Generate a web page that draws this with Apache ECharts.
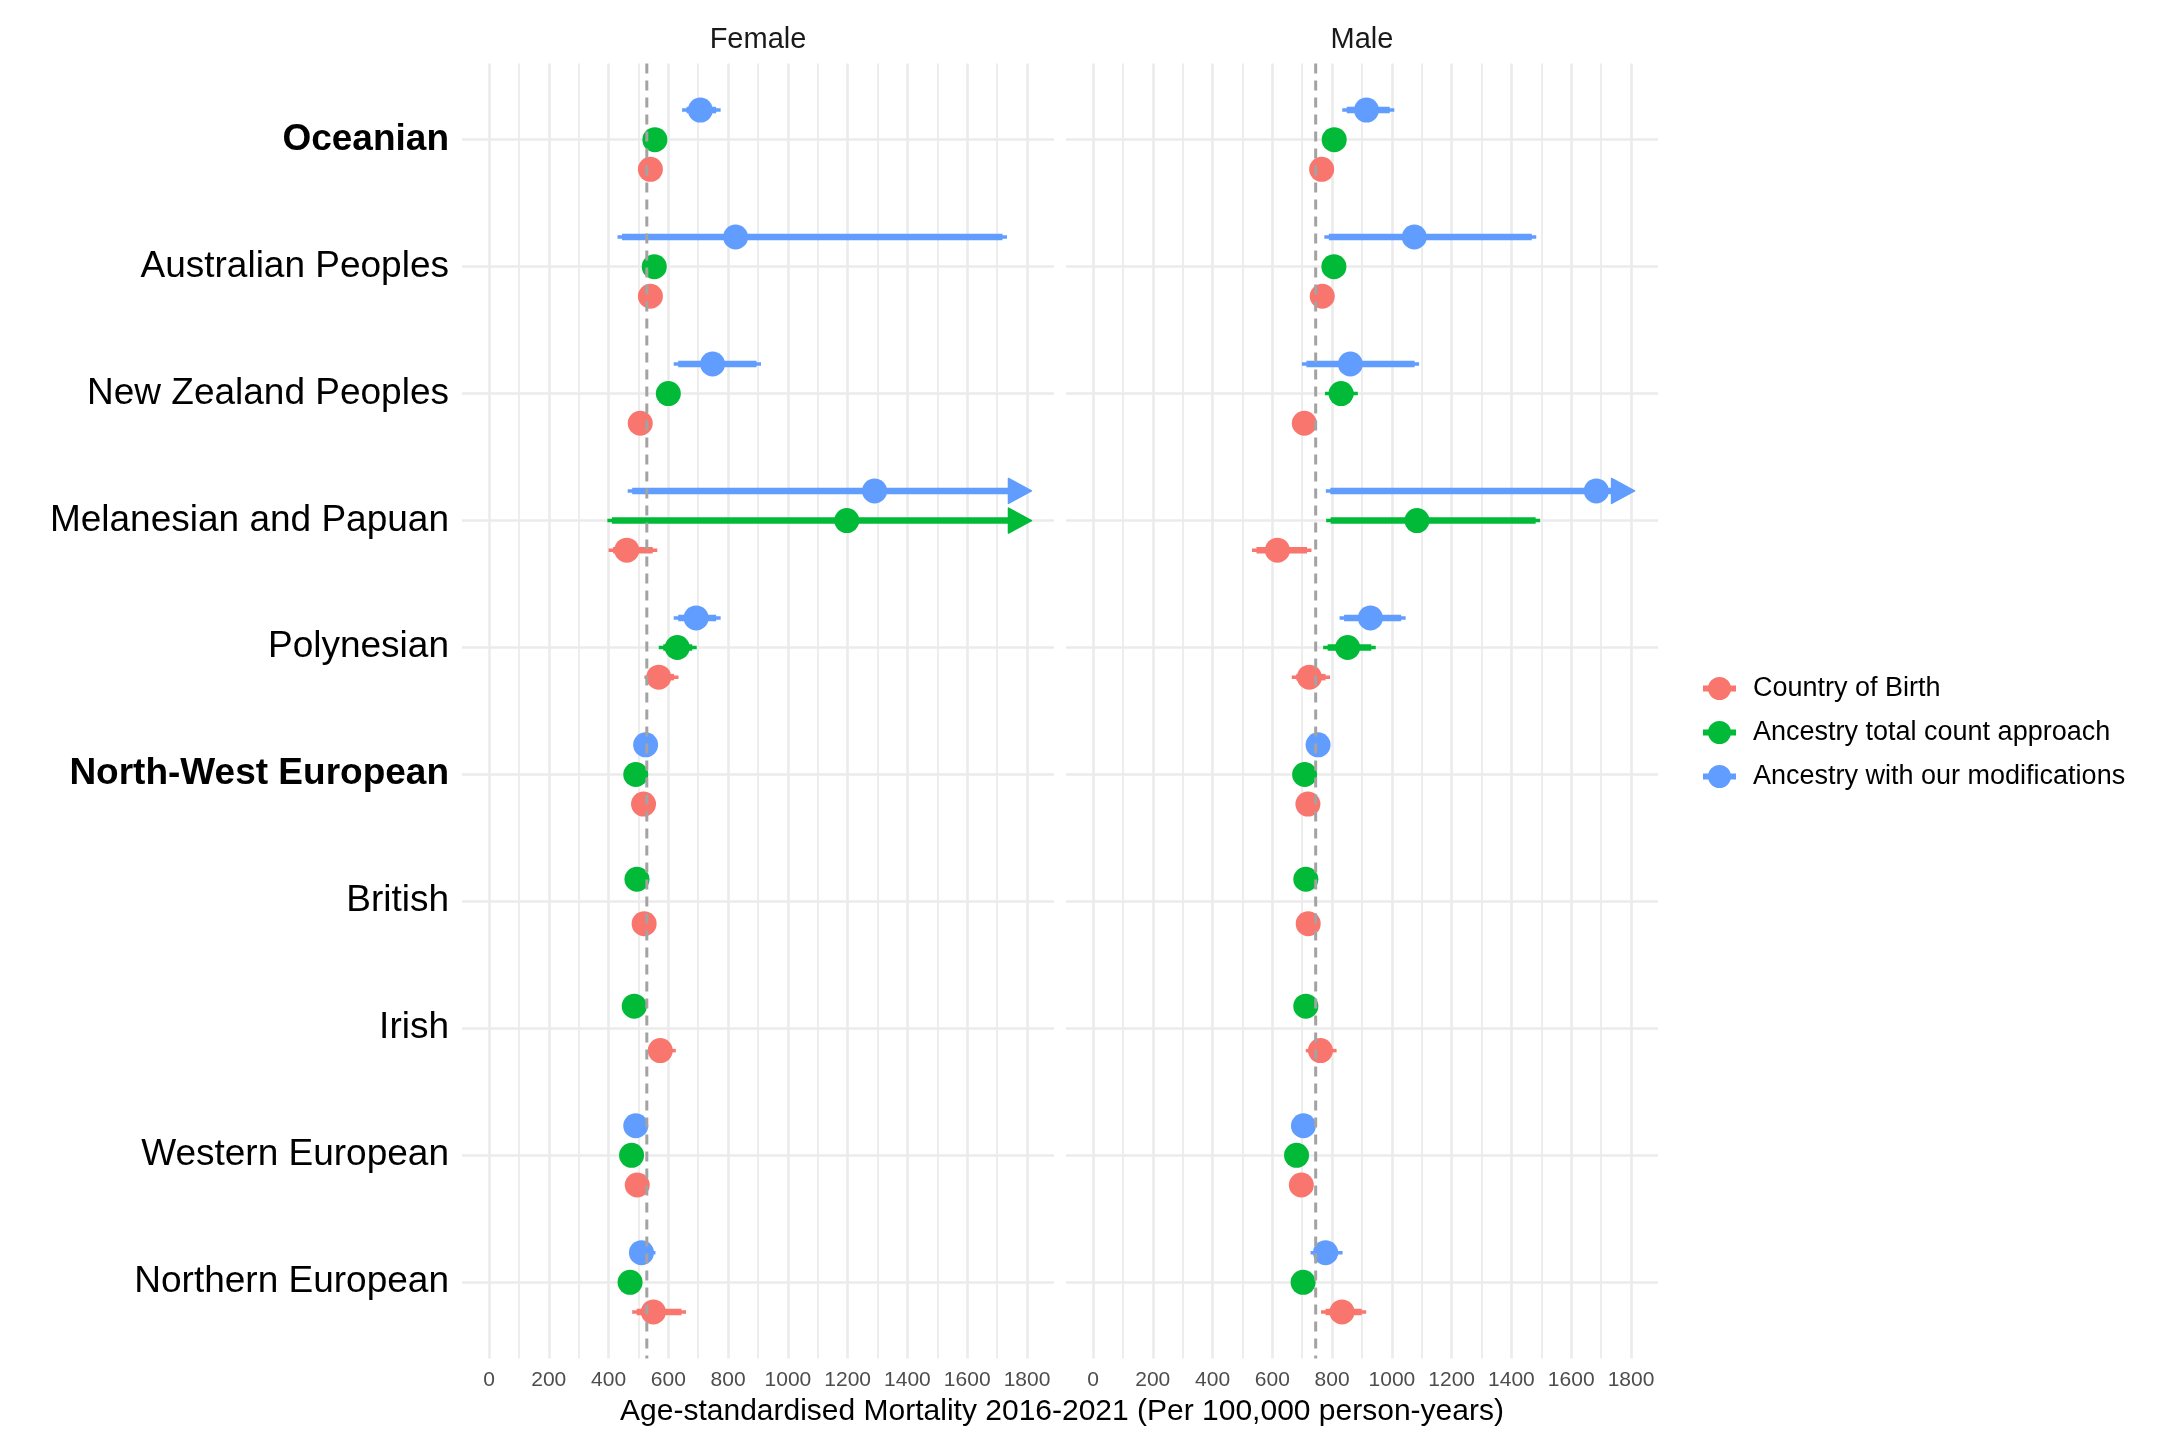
<!DOCTYPE html>
<html>
<head>
<meta charset="utf-8">
<script src="https://cdn.jsdelivr.net/npm/echarts@6.0.0/dist/echarts.min.js"></script>
<style>
  html, body { margin: 0; padding: 0; background: #ffffff; }
  #chart { width: 2160px; height: 1440px; }
</style>
</head>
<body>
<div id="chart"></div>
<script>
// ---------------- data ----------------
const categories = ['Oceanian', 'Australian Peoples', 'New Zealand Peoples', 'Melanesian and Papuan', 'Polynesian',
  'North-West European', 'British', 'Irish', 'Western European', 'Northern European'];
const boldCategories = ['Oceanian', 'North-West European'];
const panels = ['Female', 'Male'];
const methods = ['Country of Birth', 'Ancestry total count approach', 'Ancestry with our modifications'];
const methodColors = ['#F8766D', '#00BA38', '#619CFF'];
const referenceLines = [528, 745];           // dashed vertical line per panel (Female, Male)
const axisTitle = 'Age-standardised Mortality 2016-2021 (Per 100,000 person-years)';

// Female – Country of Birth
const femaleBirthEst  = [540, 540, 506, 461, 568, 517, 519, 573, 496, 550];
const femaleBirthLow  = [528, 528, 494, 400, 520, 511, 513, 537, 488, 479];
const femaleBirthHigh = [552, 552, 518, 563, 634, 523, 525, 625, 505, 659];
// Female – Ancestry total count approach
const femaleTotalEst  = [555, 553, 600, 1197, 630, 491, 495, 486, 477, 472];
const femaleTotalLow  = [545, 543, 589, 396, 568, 486, 490, 480, 471, 465];
const femaleTotalHigh = [566, 564, 612, 1815, 695, 497, 500, 492, 483, 479];
// Female – Ancestry with our modifications
const femaleModEst  = [707, 825, 748, 1290, 693, 524, null, null, 491, 510];
const femaleModLow  = [646, 430, 618, 464, 618, 514, null, null, 482, 495];
const femaleModHigh = [775, 1733, 910, 1815, 775, 534, null, null, 500, 557];
// Male – Country of Birth
const maleBirthEst  = [765, 767, 707, 617, 724, 719, 720, 761, 697, 833];
const maleBirthLow  = [755, 757, 697, 532, 665, 710, 711, 712, 688, 763];
const maleBirthHigh = [776, 778, 717, 731, 793, 729, 730, 815, 707, 914];
// Male – Ancestry total count approach
const maleTotalEst  = [807, 806, 830, 1084, 852, 708, 712, 712, 681, 703];
const maleTotalLow  = [797, 796, 776, 780, 770, 699, 703, 703, 672, 694];
const maleTotalHigh = [817, 816, 886, 1496, 946, 717, 721, 721, 690, 712];
// Male – Ancestry with our modifications
const maleModEst  = [915, 1075, 861, 1684, 928, 753, null, null, 704, 778];
const maleModLow  = [834, 774, 699, 779, 825, 743, null, null, 695, 728];
const maleModHigh = [1008, 1483, 1091, 1812, 1046, 763, null, null, 713, 835];
// intervals whose upper end runs off the axis (drawn with an arrow)
const arrowed = [
  'Female|Ancestry total count approach|Melanesian and Papuan',
  'Female|Ancestry with our modifications|Melanesian and Papuan',
  'Male|Ancestry with our modifications|Melanesian and Papuan'
];

const table = {
  'Female': [[femaleBirthEst, femaleBirthLow, femaleBirthHigh],
             [femaleTotalEst, femaleTotalLow, femaleTotalHigh],
             [femaleModEst, femaleModLow, femaleModHigh]],
  'Male':   [[maleBirthEst, maleBirthLow, maleBirthHigh],
             [maleTotalEst, maleTotalLow, maleTotalHigh],
             [maleModEst, maleModLow, maleModHigh]]
};

// ---------------- layout ----------------
const FONT = '"Liberation Sans", Arial, Helvetica, sans-serif';
const dodgeWidth = 0.7;
const dataGrids = [
  { left: 489, top: 63.5, width: 538, height: 1295 },
  { left: 1093, top: 63.5, width: 538, height: 1295 }
];
const labelGrids = [
  { left: 462, top: 139.5, width: 592, height: 1142.5 },
  { left: 1066, top: 139.5, width: 592, height: 1142.5 }
];

// dodged y position (category index + offset)
function dodgedY(panel, methodIdx, catIdx) {
  const present = [];
  for (let m = methods.length - 1; m >= 0; m--) {   // top to bottom: last method first
    if (table[panel][m][0][catIdx] != null) present.push(m);
  }
  const n = present.length;
  const k = present.indexOf(methodIdx);
  return (catIdx + 1) + (k - (n - 1) / 2) * dodgeWidth / n;
}

function renderRange(params, api) {
  const est = api.value(0), y = api.value(1), lo = api.value(2), hi = api.value(3), trunc = api.value(4);
  const p = api.coord([est, y]);
  const a = api.coord([lo, y]);
  const b = api.coord([hi, y]);
  const color = api.visual('color');
  const children = [];
  const arrowLen = 23, arrowHalf = 12.5, inset = 4.5;
  const xEnd = trunc ? b[0] - arrowLen + 3 : b[0];
  children.push({ type: 'line', shape: { x1: a[0], y1: p[1], x2: xEnd, y2: p[1] },
    style: { stroke: color, lineWidth: 3.5, lineCap: 'butt' } });
  if (xEnd - a[0] > 2 * inset) {
    children.push({ type: 'line', shape: { x1: a[0] + inset, y1: p[1], x2: trunc ? xEnd : xEnd - inset, y2: p[1] },
      style: { stroke: color, lineWidth: 6.5, lineCap: 'butt' } });
  }
  if (trunc) {
    children.push({ type: 'polygon',
      shape: { points: [[b[0] - arrowLen, p[1] - arrowHalf], [b[0], p[1]], [b[0] - arrowLen, p[1] + arrowHalf]] },
      style: { fill: color, stroke: color, lineWidth: 1.5, lineJoin: 'round' } });
  }
  children.push({ type: 'circle', shape: { cx: p[0], cy: p[1], r: 12.5 }, style: { fill: color } });
  return { type: 'group', children: children };
}

const series = [];
panels.forEach((panel, pi) => {
  methods.forEach((method, mi) => {
    const [est, low, high] = table[panel][mi];
    const data = [];
    categories.forEach((cat, ci) => {
      if (est[ci] == null) return;
      const trunc = arrowed.indexOf(panel + '|' + method + '|' + cat) >= 0 ? 1 : 0;
      data.push([est[ci], dodgedY(panel, mi, ci), low[ci], high[ci], trunc]);
    });
    series.push({
      type: 'custom', name: method, xAxisIndex: pi, yAxisIndex: pi,
      itemStyle: { color: methodColors[mi] },
      renderItem: renderRange, data: data, z: 3, silent: true,
      encode: { x: [0, 2, 3], y: 1 }
    });
  });
  series.push({
    type: 'custom', name: 'ref' + pi, xAxisIndex: pi, yAxisIndex: pi, z: 6, silent: true,
    data: [[referenceLines[pi]]],
    encode: { x: 0 },
    renderItem: function (params, api) {
      const cs = params.coordSys;
      const x = api.coord([api.value(0), 1])[0];
      return { type: 'line', shape: { x1: x, y1: cs.y, x2: x, y2: cs.y + cs.height },
        style: { stroke: '#A3A3A3', lineWidth: 3, lineDash: [10, 7] } };
    }
  });
});

const legendIcon = 'path://M0,8.5 L33,8.5 L33,14.5 L0,14.5 Z M16.5,0 A11.5,11.5 0 1,1 16.49,0 Z';

const option = {
  backgroundColor: '#ffffff',
  animation: false,
  textStyle: { fontFamily: FONT },
  grid: [
    Object.assign({ containLabel: false }, dataGrids[0]),
    Object.assign({ containLabel: false }, dataGrids[1]),
    Object.assign({ containLabel: false }, labelGrids[0]),
    Object.assign({ containLabel: false }, labelGrids[1])
  ],
  xAxis: [0, 1].map(i => ({
    type: 'value', gridIndex: i, min: 0, max: 1800, interval: 200,
    axisLine: { show: false }, axisTick: { show: false },
    axisLabel: { fontSize: 21, color: '#4D4D4D', margin: 11, fontFamily: FONT, formatter: v => String(v) },
    splitLine: { show: true, lineStyle: { color: '#EBEBEB', width: 2.6 } },
    minorTick: { show: false, splitNumber: 2 },
    minorSplitLine: { show: true, lineStyle: { color: '#EBEBEB', width: 1.8 } }
  })).concat([2, 3].map(i => ({
    type: 'value', gridIndex: i, min: 0, max: 1, show: false
  }))),
  yAxis: [0, 1].map(i => ({
    type: 'value', gridIndex: i, min: 0.4, max: 10.6, inverse: true, show: false
  })).concat([2, 3].map(i => ({
    type: 'category', gridIndex: i, data: categories, inverse: true, boundaryGap: false,
    axisLine: { show: false }, axisTick: { show: false },
    splitLine: { show: true, interval: 0, lineStyle: { color: '#EBEBEB', width: 2.6 } },
    axisLabel: {
      show: i === 2, interval: 0, margin: 13, color: '#000000', fontSize: 37, fontFamily: FONT,
      formatter: v => boldCategories.indexOf(v) >= 0 ? '{b|' + v + '}' : '{n|' + v + '}',
      rich: {
        b: { fontSize: 37, fontWeight: 'bold', color: '#000000', fontFamily: FONT },
        n: { fontSize: 37, color: '#000000', fontFamily: FONT }
      }
    }
  }))),
  legend: {
    data: methods, orient: 'vertical', left: 1698, top: 670,
    itemWidth: 33, itemHeight: 23, itemGap: 17, icon: legendIcon,
    textStyle: { fontSize: 27, color: '#000000', fontFamily: FONT, padding: [0, 0, 0, 12] },
    selectedMode: false
  },
  graphic: [
    { type: 'text', x: 758, y: 40, style: { text: panels[0], font: '29px ' + FONT, fill: '#1A1A1A', textAlign: 'center', textVerticalAlign: 'middle' } },
    { type: 'text', x: 1362, y: 40, style: { text: panels[1], font: '29px ' + FONT, fill: '#1A1A1A', textAlign: 'center', textVerticalAlign: 'middle' } },
    { type: 'text', x: 1062, y: 1412, style: { text: axisTitle, font: '30px ' + FONT, fill: '#000000', textAlign: 'center', textVerticalAlign: 'middle' } }
  ],
  series: series
};

const chart = echarts.init(document.getElementById('chart'), null, { renderer: 'canvas', width: 2160, height: 1440 });
chart.setOption(option);
</script>
</body>
</html>
